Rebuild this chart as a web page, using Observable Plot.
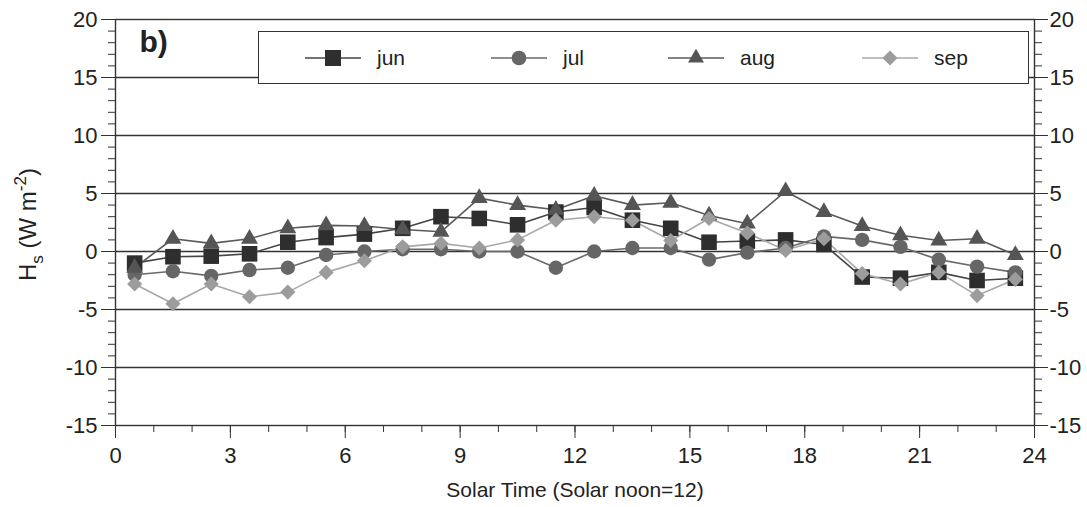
<!DOCTYPE html>
<html>
<head>
<meta charset="utf-8">
<script src="https://cdn.jsdelivr.net/npm/d3@7"></script>
<script src="https://cdn.jsdelivr.net/npm/@observablehq/plot@0.6"></script>
<style>
  html, body { margin: 0; padding: 0; background: #fff; }
  #wrap { position: relative; width: 1087px; height: 507px; font-family: "Liberation Sans", Arial, sans-serif; }
  #legend { position: absolute; left: 258px; top: 31px; width: 769px; height: 51px; border: 1.5px solid #333; background: #fff; box-sizing: content-box; }
  .item { position: absolute; top: 0; height: 51px; display: flex; align-items: center; font-size: 21px; color: #222; }
  .item svg { margin-right: 16px; }
</style>
</head>
<body>
<div id="wrap"></div>
<script>
const hours = [0.5,1.5,2.5,3.5,4.5,5.5,6.5,7.5,8.5,9.5,10.5,11.5,12.5,13.5,14.5,15.5,16.5,17.5,18.5,19.5,20.5,21.5,22.5,23.5];
const jun = [-1.0,-0.45,-0.4,-0.2,0.8,1.2,1.5,2.0,3.0,2.85,2.3,3.4,3.8,2.7,2.0,0.8,0.9,1.0,0.6,-2.2,-2.3,-1.8,-2.5,-2.3];
const jul = [-2.0,-1.7,-2.1,-1.6,-1.4,-0.3,0.0,0.2,0.2,0.0,0.0,-1.4,0.0,0.3,0.3,-0.7,-0.1,0.3,1.3,1.0,0.4,-0.7,-1.3,-1.8];
const aug = [-1.4,1.1,0.7,1.1,2.0,2.25,2.2,1.9,1.7,4.6,4.0,3.6,4.8,4.0,4.2,3.1,2.4,5.2,3.4,2.2,1.4,0.95,1.1,-0.3];
const sep = [-2.8,-4.5,-2.8,-3.9,-3.5,-1.8,-0.8,0.4,0.7,0.3,1.0,2.7,3.0,2.7,0.95,2.85,1.6,0.1,1.1,-1.9,-2.8,-1.8,-3.8,-2.4];
const months = ["jun","jul","aug","sep"];
const colors = ["#2e2e2e","#666666","#555555","#9c9c9c"];
const lineColors = ["#444444","#6a6a6a","#5a5a5a","#a8a8a8"];
const symbols = ["square","circle","triangle","diamond2"];
const markerR = [8.8, 7.2, 6.3, 6.8];
const xTicks = [0,3,6,9,12,15,18,21,24];
const yTicks = [-15,-10,-5,0,5,10,15,20];
const gridY = [-10,-5,0,5,10,15];

const series = {jun, jul, aug, sep};
const data = months.flatMap(m => hours.map((h, i) => ({month: m, hour: h, value: series[m][i]})));

const font = "Liberation Sans, Arial, sans-serif";
const plot = Plot.plot({
  width: 1087,
  height: 507,
  marginLeft: 115,
  marginRight: 53,
  marginTop: 19,
  marginBottom: 82,
  style: {fontFamily: font, fontSize: "22px", color: "#222", background: "#fff"},
  x: {domain: [0, 24], label: null},
  y: {domain: [-15, 20], label: null},
  symbol: {domain: months, range: symbols},
  marks: [
    Plot.ruleY(gridY, {stroke: "#333", strokeWidth: 1.4}),
    Plot.frame({stroke: "#333", strokeWidth: 1.4}),
    Plot.axisY({anchor: "left", ticks: d3.range(-15, 21, 1), tickSize: 7, text: null, stroke: "#333"}),
    Plot.axisY({anchor: "left", ticks: yTicks, tickSize: 14, tickPadding: 4, tickFormat: d => String(d), fontSize: 22, stroke: "#333", label: null}),
    Plot.axisY({anchor: "right", ticks: d3.range(-15, 21, 1), tickSize: 7, text: null, stroke: "#333"}),
    Plot.axisY({anchor: "right", ticks: yTicks, tickSize: 13, tickPadding: 2, tickFormat: d => String(d), fontSize: 22, stroke: "#333", label: null}),
    Plot.axisX({anchor: "bottom", ticks: d3.range(0, 25, 1), tickSize: 7, text: null, stroke: "#333"}),
    Plot.axisX({anchor: "bottom", ticks: xTicks, tickSize: 13, tickPadding: 9, fontSize: 22, stroke: "#333", label: null}),
    ...months.map((m, i) => Plot.line(data.filter(d => d.month === m), {x: "hour", y: "value", stroke: lineColors[i], strokeWidth: 1.6})),
    ...months.map((m, i) => Plot.dot(data.filter(d => d.month === m), {x: "hour", y: "value", symbol: "month", fill: colors[i], r: markerR[i], stroke: "none"})),
    Plot.text(["b)"], {frameAnchor: "top-left", dx: 24, dy: 11, fontSize: 30, fontWeight: "bold", fill: "#222", textAnchor: "start"}),
    Plot.text(["Solar Time (Solar noon=12)"], {frameAnchor: "bottom", dy: 71, fontSize: 21, fill: "#222"}),
    Plot.text(["H_s (W m-2)"], {frameAnchor: "left", dx: -87, dy: 2, rotate: -90, textAnchor: "middle", fontSize: 24, fill: "#222"})
  ]
});

document.getElementById("wrap").appendChild(plot);

// rich y label with subscript / superscript
const yl = d3.select(plot).selectAll("text").filter(function() { return this.textContent === "H_s (W m-2)"; });
yl.each(function() {
  const t = d3.select(this);
  t.text(null);
  t.append("tspan").text("H");
  t.append("tspan").attr("dy", 7).attr("font-size", 17).text("s");
  t.append("tspan").attr("dy", -7).text(" (W m");
  t.append("tspan").attr("dy", -10).attr("font-size", 17).text("-2");
  t.append("tspan").attr("dy", 10).text(")");
});

// legend
const legend = d3.select("#wrap").append("div").attr("id", "legend");
const lx = [46, 232, 409, 603];
const legendSizes = [256, 170, 111, 144];
months.forEach((m, i) => {
  const it = legend.append("div").attr("class", "item").style("left", lx[i] + "px");
  const s = it.append("svg").attr("width", 56).attr("height", 20);
  s.append("line").attr("x1", 0).attr("x2", 56).attr("y1", 10).attr("y2", 10).attr("stroke", lineColors[i]).attr("stroke-width", 1.6);
  const sym = [d3.symbolSquare, d3.symbolCircle, d3.symbolTriangle, d3.symbolDiamond2][i];
  s.append("path").attr("transform", "translate(28,10)").attr("d", d3.symbol(sym, legendSizes[i])()).attr("fill", colors[i]);
  it.append("span").text(m);
});
</script>
</body>
</html>
